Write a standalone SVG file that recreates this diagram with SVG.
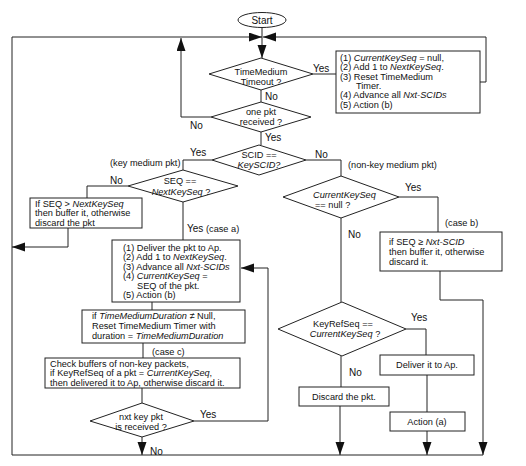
<svg xmlns="http://www.w3.org/2000/svg" width="526" height="466" viewBox="0 0 526 466">
<style>
.n{fill:#fff;stroke:#222;stroke-width:1}
.c{fill:none;stroke:#222;stroke-width:1}
text{font-family:"Liberation Sans",Arial,sans-serif;font-size:9.2px;fill:#111}
.l{font-size:10px}
.m{text-anchor:middle}
.i{font-style:italic}
</style>
<defs>
<marker id="ah" markerUnits="userSpaceOnUse" markerWidth="14" markerHeight="10" refX="13" refY="4.5" orient="auto">
<path d="M0,0 L13,4.5 L0,9 z" fill="#111"/>
</marker>
</defs>
<rect width="526" height="466" fill="#fff"/>
<g id="connectors">
<path class="c" d="M262,27 V37"/>
<path class="c" d="M480,82 H486 V37 H263" marker-end="url(#ah)"/>
<path class="c" d="M483,455 H12 V37 H262" marker-end="url(#ah)"/>
<path class="c" d="M262,37 V58" marker-end="url(#ah)"/>
<path class="c" d="M261,90 V102"/>
<path class="c" d="M313,74 H336"/>
<path class="c" d="M211,117 H181 V38" marker-end="url(#ah)"/>
<path class="c" d="M261,132 V145"/>
<path class="c" d="M212,160 H183 V170"/>
<path class="c" d="M128,186 H87 V198"/>
<path class="c" d="M68,228 V247 H12" marker-end="url(#ah)"/>
<path class="c" d="M183,202 V240"/>
<path class="c" d="M152,302 V310"/>
<path class="c" d="M143,343 V358"/>
<path class="c" d="M142,388 V403"/>
<path class="c" d="M194,421 H268 V268 H241" marker-end="url(#ah)"/>
<path class="c" d="M142,437 V455" marker-end="url(#ah)"/>
<path class="c" d="M306,160 H341 V176"/>
<path class="c" d="M399,197 H438 V232"/>
<path class="c" d="M440,271 V300 H483 V455" marker-end="url(#ah)"/>
<path class="c" d="M341,218 V302"/>
<path class="c" d="M406,329 H426 V355"/>
<path class="c" d="M427,375 V412"/>
<path class="c" d="M427,431 V455" marker-end="url(#ah)"/>
<path class="c" d="M341,356 V387"/>
<path class="c" d="M340,406 V455" marker-end="url(#ah)"/>
</g>
<g id="start">
<ellipse class="n" cx="262" cy="20" rx="24" ry="7.5"/>
<text class="l m" x="262" y="24">Start</text>
</g>
<g id="timeout">
<polygon class="n" points="261,58 313,74 261,90 209,74"/>
<text class="m" x="261" y="75">TimeMedium</text>
<text class="m" x="261" y="85">Timeout ?</text>
<text class="l" x="313" y="72">Yes</text>
<text class="l" x="265" y="100">No</text>
</g>
<g id="timeoutAction">
<rect class="n" x="336" y="51" width="144" height="62"/>
<text x="340" y="60.5">(1) <tspan class="i">CurrentKeySeq</tspan> = null,</text>
<text x="340" y="70">(2) Add 1 to <tspan class="i">NextKeySeq</tspan>.</text>
<text x="340" y="79.5">(3) Reset TimeMedium</text>
<text x="356" y="88.5">Timer.</text>
<text x="340" y="98">(4) Advance all <tspan class="i">Nxt-SCIDs</tspan></text>
<text x="340" y="107.5">(5) Action (b)</text>
</g>
<g id="received">
<polygon class="n" points="261,102 311,117 261,132 211,117"/>
<text class="m" x="261" y="115">one pkt</text>
<text class="m" x="261" y="125">received ?</text>
<text class="l" x="190" y="129">No</text>
<text class="l" x="265" y="141">Yes</text>
</g>
<g id="scid">
<polygon class="n" points="259,145 306,160 259,175 212,160"/>
<text class="m" x="259" y="158">SCID ==</text>
<text class="m i" x="259" y="168">KeySCID?</text>
<text class="l" x="190" y="156">Yes</text>
<text x="110" y="166">(key medium pkt)</text>
<text class="l" x="315" y="158">No</text>
<text x="348" y="168">(non-key medium pkt)</text>
</g>
<g id="seq">
<polygon class="n" points="183,170 238,186 183,202 128,186"/>
<text class="m" x="180" y="184">SEQ ==</text>
<text class="m" x="181" y="195"><tspan class="i">NextKeySeq</tspan> ?</text>
<text class="l" x="110" y="184">No</text>
<text class="l" x="187" y="232">Yes</text>
<text x="206" y="232">(case a)</text>
</g>
<g id="bufferKey">
<rect class="n" x="30" y="198" width="112" height="30"/>
<text x="35" y="206.5">If SEQ &gt; <tspan class="i">NextKeySeq</tspan></text>
<text x="35" y="216.2">then buffer it, otherwise</text>
<text x="35" y="225.9">discard the pkt</text>
</g>
<g id="deliverKey">
<rect class="n" x="112" y="240" width="128" height="62"/>
<text x="123" y="250.5">(1) Deliver the pkt to Ap.</text>
<text x="123" y="260">(2) Add 1 to <tspan class="i">NextKeySeq</tspan>.</text>
<text x="123" y="269.5">(3) Advance all <tspan class="i">Nxt-SCIDs</tspan></text>
<text x="123" y="279">(4) <tspan class="i">CurrentKeySeq</tspan> =</text>
<text x="137" y="288.5">SEQ of the pkt.</text>
<text x="123" y="298">(5) Action (b)</text>
</g>
<g id="resetTimer">
<rect class="n" x="82" y="310" width="163" height="33"/>
<text x="92" y="319">if <tspan class="i">TimeMediumDuration</tspan> ≠ Null,</text>
<text x="92" y="329">Reset TimeMedium Timer with</text>
<text x="92" y="339">duration = <tspan class="i">TimeMediumDuration</tspan></text>
</g>
<g id="checkBuffers">
<text x="152" y="355">(case c)</text>
<rect class="n" x="45" y="358" width="195" height="30"/>
<text x="50" y="366.5">Check buffers of non-key packets,</text>
<text x="50" y="376.3">if KeyRefSeq of a pkt = <tspan class="i">CurrentKeySeq</tspan>,</text>
<text x="50" y="386">then delivered it to Ap, otherwise discard it.</text>
</g>
<g id="nextKey">
<polygon class="n" points="142,403 194,421 142,437 90,421"/>
<text class="m" x="141" y="420">nxt key pkt</text>
<text class="m" x="141" y="430">is received ?</text>
<text class="l" x="200" y="418">Yes</text>
<text class="l" x="150" y="455">No</text>
</g>
<g id="currentNull">
<polygon class="n" points="341,176 399,197 341,218 283,197"/>
<text class="i" x="313" y="198">CurrentKeySeq</text>
<text x="315" y="208">== null ?</text>
<text class="l" x="405" y="191">Yes</text>
<text class="l" x="348" y="238">No</text>
<text x="445" y="226">(case b)</text>
</g>
<g id="bufferNonKey">
<rect class="n" x="380" y="232" width="122" height="39"/>
<text x="389" y="245">if SEQ ≥ <tspan class="i">Nxt-SCID</tspan></text>
<text x="389" y="255">then buffer it, otherwise</text>
<text x="389" y="265">discard it.</text>
</g>
<g id="keyRef">
<polygon class="n" points="342,302 406,329 342,356 278,329"/>
<text class="m" x="343" y="327">KeyRefSeq ==</text>
<text class="m" x="345" y="337"><tspan class="i">CurrentKeySeq</tspan> ?</text>
<text class="l" x="411" y="321">Yes</text>
<text class="l" x="349" y="376">No</text>
</g>
<g id="deliverNonKey">
<rect class="n" x="380" y="355" width="94" height="20"/>
<text class="m" x="427" y="368">Deliver it to Ap.</text>
</g>
<g id="discard">
<rect class="n" x="299" y="387" width="90" height="19"/>
<text class="m" x="344" y="400">Discard the pkt.</text>
</g>
<g id="actionA">
<rect class="n" x="390" y="412" width="75" height="19"/>
<text class="m" x="427" y="425">Action (a)</text>
</g>
</svg>
